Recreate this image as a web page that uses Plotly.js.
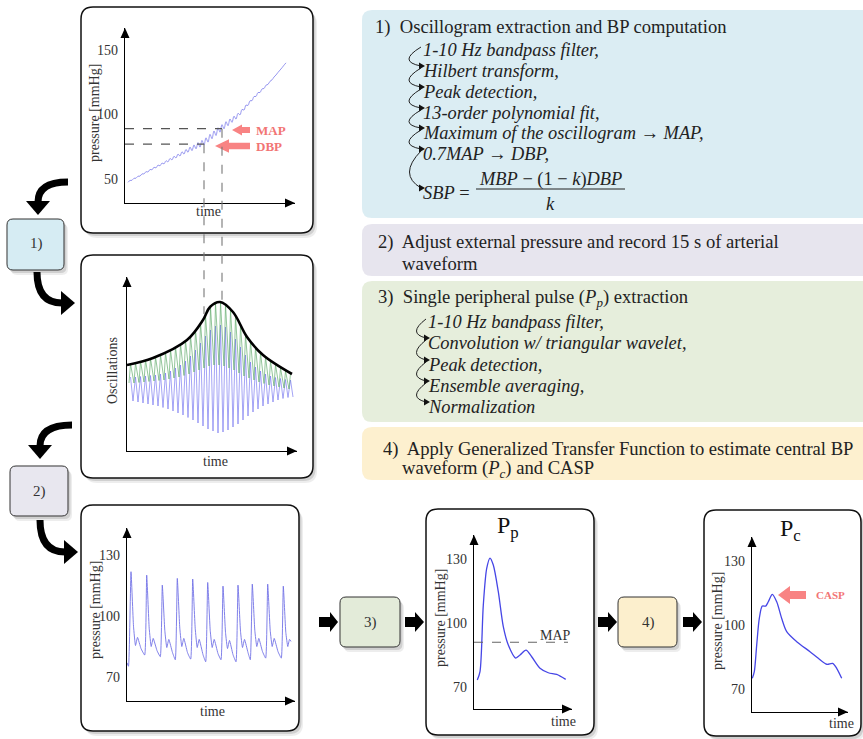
<!DOCTYPE html>
<html><head><meta charset="utf-8">
<script src="https://cdn.plot.ly/plotly-3.0.1.min.js"></script>
<style>html,body{margin:0;padding:0;background:#fff}#chart{width:863px;height:739px}</style>
</head><body><div id="chart"></div>
<script>
// ================= DATA =================
// Step 1 panel: cuff pressure ramp with superimposed oscillations (mmHg)
const rampTime = [3,7,11,15,19,23,27,31,35,39,43,47,51,55,59,63,67,71,75,79,83,87,91,95,99,103,107,111,115,119,123,127,131,135,139,143,147,151,155,159];
const rampLow  = [47.4,49.0,50.6,52.2,53.9,55.4,57.1,58.6,60.2,61.7,63.3,64.8,66.3,67.8,69.3,70.7,72.0,73.4,74.7,76.3,78.6,81.2,83.7,86.3,88.9,91.3,93.9,96.4,99.7,103.4,107.0,110.7,114.0,117.0,120.1,123.3,126.8,130.6,134.4,138.2];
const rampHigh = [48.9,50.6,52.2,54.0,55.7,57.4,59.1,60.8,62.4,64.1,65.9,67.6,69.3,71.1,72.9,74.7,76.4,78.2,79.9,81.9,84.6,87.2,89.7,92.1,94.4,96.5,98.7,100.9,103.9,107.3,110.6,113.9,117.0,119.8,122.7,125.7,129.0,132.6,136.2,140.0];
const rampTicks = [50, 100, 150];
const mapValue = 89, dbpValue = 77;     // mmHg
const mapTime = 97, dbpTime = 79;       // time where the ramp crosses MAP / DBP

// Oscillogram panel (arbitrary units)
const oscTime     = [2,7,12,17,22,27,32,37,42,47,52,57,62,67,72,77,82,87,92,97,102,107,112,117,122,127,132,137,142,147,152,157,162];
const greenTrough = [68,68,68.5,69,69.5,70,70.5,71,72,73,74,75.5,77,79,81,83,85,86,86,85,83,81,78,75,73,71,69,67.5,66,65,64,63,62];
const greenPeak   = [87,88,89.5,91,92.5,94,96,98.5,101,104,107,110.5,115,121,128,136,144,148,149,146.5,141.5,135,126,116.5,110,104,98.5,94,90,86.5,83,80,77.5];
const blueTop     = [74,74,74.5,75,75.5,76,77,78,80,83,86,90,95,101,108,115,121,125,126,124,119,112,104,96,89,84,80,77,75,73.5,72.5,71.5,71];
const blueBottom  = [50,49,48,47,46,45,43.5,42,40,38,36,33.5,31,28,25,22,20,18,19,21,24,27,31,35,39,42,45,47,49,51,52.5,53.5,54];
const envTime  = [0,26,60,76,83,93,106,120,136,165];
const envValue = [86,93,111,131,144,149,139,114,96,77];

// 15 s arterial waveform (mmHg)
const recTime = [0,1.5,4,6.5,8.5,10.5,14,17.7,19.7,22.2,24.2,26.2,30,33.3,35.3,37.8,39.8,41.8,45.5,48.3,50.3,52.8,54.8,56.8,60.5,63.7,65.7,68.2,70.2,72.2,76,78.7,80.7,83.2,85.2,87.2,91,94,96,98.5,100.5,102.5,106,109,111,113.5,115.5,117.5,121,123.3,125.3,127.8,129.8,131.8,135.5,138.7,140.7,143.2,145.2,147.2,151,154.3,156.3,158.8,160.8,162.5,164];
const recPressure = [77,75.3,121.8,95,85.5,89.5,84,80.8,120.1,94,85,89,83,80,115.2,93,84.5,88.5,82,78.5,118.5,94,85,89,82,78.8,118.2,94,84.5,88.5,81,77.5,116.5,93,84.5,88.5,81.5,78.5,114.7,92,84,88,81,77.5,115.2,92.5,84.5,88.5,82,78.5,115.7,93,85,89,82.5,79.3,115.7,93,85,89,82.5,79.3,114.7,92,85,88.5,87.5];
const pressureTicks = [70, 100, 130];

// Single peripheral pulse Pp (mmHg)
const ppTime = [3.3,6,9.3,12.7,16,19.3,24.3,29.3,34.3,41.7,46,52,57.7,66,74.3,82.7,91.7];
const ppPressure = [73.3,77.2,108.4,125.6,130.5,127.2,114.7,98.3,89.7,83.6,85,87.3,84.2,78.8,76.7,75.9,73.6];
const ppMAP = 91;

// Central pulse Pc (mmHg)
const pcTime = [0.3,2.3,4.7,7.3,10.3,13.7,16.3,20.3,24.7,29.7,34.7,44.7,58,66.3,74.7,80.7,84.7,89.7];
const pcPressure = [75,78.1,90.6,103.1,108.9,108.9,110.9,114.4,110.9,103.1,96.9,92.2,87.5,84.4,81.6,82,79.7,75];

// ================= HELPERS =================
const W = 863, H = 739;
const X = px => px / W;
const Y = py => 1 - py / H;
function pathPx(cmds){
  return cmds.map(c => {
    const op = c[0]; const nums = c.slice(1); const out = [];
    for (let i = 0; i < nums.length; i += 2) out.push(X(nums[i]).toFixed(5) + ',' + Y(nums[i+1]).toFixed(5));
    return op + ' ' + out.join(' ');
  }).join(' ');
}
function rrect(x0,y0,x1,y1,r){
  return pathPx([['M',x0+r,y0],['L',x1-r,y0],['Q',x1,y0,x1,y0+r],['L',x1,y1-r],['Q',x1,y1,x1-r,y1],['L',x0+r,y1],['Q',x0,y1,x0,y1-r],['L',x0,y0+r],['Q',x0,y0,x0+r,y0],['Z']]);
}
const shapes = [];
const annos = [];
function addShadowBox(b, r, fill, lineColor, lineW){
  shapes.push({type:'path', xref:'paper', yref:'paper', layer:'below', path: rrect(b[0]+4,b[1]+5,b[2]+4,b[3]+5,r), fillcolor:'rgba(0,0,0,0.07)', line:{width:0}});
  shapes.push({type:'path', xref:'paper', yref:'paper', layer:'below', path: rrect(b[0]+2.5,b[1]+3,b[2]+2.5,b[3]+3,r), fillcolor:'rgba(0,0,0,0.12)', line:{width:0}});
  shapes.push({type:'path', xref:'paper', yref:'paper', layer:'below', path: rrect(b[0],b[1],b[2],b[3],r), fillcolor:fill, line:{color:lineColor, width:lineW}});
}
function textBox(b, fill){
  shapes.push({type:'path', xref:'paper', yref:'paper', layer:'below', path: rrect(b[0],b[1],b[2],b[3],10), fillcolor:fill, line:{width:0}});
}
function tri(pts, color){
  shapes.push({type:'path', xref:'paper', yref:'paper', path: pathPx([['M',pts[0],pts[1]],['L',pts[2],pts[3]],['L',pts[4],pts[5]],['Z']]), fillcolor:color, line:{width:0}});
}
function blockArrow(xs, xb, xt, yc, hs, hh, color){
  shapes.push({type:'path', xref:'paper', yref:'paper', path: pathPx([['M',xs,yc-hs],['L',xb,yc-hs],['L',xb,yc-hh],['L',xt,yc],['L',xb,yc+hh],['L',xb,yc+hs],['L',xs,yc+hs],['Z']]), fillcolor:color, line:{width:0}});
}
function curveArrow(cmds, head){
  shapes.push({type:'path', xref:'paper', yref:'paper', path: pathPx(cmds), line:{color:'#000', width:7}, fillcolor:'rgba(0,0,0,0)'});
  tri(head, '#000');
}
function chainArrow(x, y0, y1, cx){
  const cy = (y0 + y1) / 2 + 1;
  shapes.push({type:'path', xref:'paper', yref:'paper', path: pathPx([['M',x-2,y0-3],['Q',cx,cy,x-2,y1-5]]), line:{color:'#222', width:1}, fillcolor:'rgba(0,0,0,0)'});
  tri([x+2,y1-5, x-4,y1-8.5, x-4,y1-1.5], '#111');
}
function txt(x, y, text, opt){
  annos.push(Object.assign({xref:'paper', yref:'paper', x:X(x), y:Y(y), text:text, showarrow:false, xanchor:'left', yanchor:'middle', font:{size:17, color:'#222'}}, opt || {}));
}
function axisHeads(xTip, yAxis, xAxis, yTip){
  tri([xTip,yAxis, xTip-10,yAxis-4.5, xTip-10,yAxis+4.5], '#000');
  tri([xAxis,yTip, xAxis-4.5,yTip+10, xAxis+4.5,yTip+10], '#000');
}

// ================= BACKGROUND BOXES =================
textBox([362,10,880,218], '#dbedf3');
textBox([362,224,880,276], '#e7e5ee');
textBox([362,281,880,422], '#e6eedc');
textBox([362,427,880,480], '#fdf0cf');

addShadowBox([81,7,313,233], 12, '#fff', '#111', 1.5);
addShadowBox([81,255,313,478], 12, '#fff', '#111', 1.5);
addShadowBox([81,505,299,731], 12, '#fff', '#111', 1.5);
addShadowBox([426,509,594,735], 12, '#fff', '#111', 1.5);
addShadowBox([704,510,861,736], 12, '#fff', '#111', 1.5);

addShadowBox([7,219,64,270], 6, '#d6ecf3', '#333', 1);
addShadowBox([10,466,68,516], 6, '#e8e7ef', '#333', 1);
addShadowBox([340,597,400,647], 6, '#e3ebd9', '#333', 1);
addShadowBox([618,597,677,647], 6, '#fcefcd', '#333', 1);

// ================= ARROWS =================
curveArrow([['M',68,182],['Q',38,182,38,202]], [26,201, 50,201, 38,215]);
curveArrow([['M',37,272],['Q',37,303,62,303]], [61,291, 61,315, 75,303]);
curveArrow([['M',72,425],['Q',40,425,40,446]], [28,445, 52,445, 40,459]);
curveArrow([['M',40,520],['Q',40,552,65,552]], [64,540, 64,564, 78,552]);

blockArrow(319,330,338,622,5,10,'#000');
blockArrow(405,415,424,622,5,10,'#000');
blockArrow(598,608,617,622,5,10,'#000');
blockArrow(683,693,702,622,5,10,'#000');

// red markers
const red = '#f88383';
blockArrow(250,242,232,130,3,5.5,red);
blockArrow(250,229,215,146,3.3,6.7,red);
blockArrow(806,790,778,595,4,9,red);

// chain arrows in the text boxes
const box1Y = [50,71,92,113,133,154,193];
for (let i = 0; i < box1Y.length - 1; i++) chainArrow(423, box1Y[i], box1Y[i+1], i === box1Y.length - 2 ? 398 : 397);
const box3Y = [322,343,365,386,407];
for (let i = 0; i < box3Y.length - 1; i++) chainArrow(428, box3Y[i], box3Y[i+1], 407);

// SBP fraction bar
shapes.push({type:'line', xref:'paper', yref:'paper', x0:X(476), x1:X(625), y0:Y(189), y1:Y(189), line:{color:'#222', width:1}});

// axis arrowheads
axisHeads(295,203,125,28);
axisHeads(297,451,127,277);
axisHeads(295,701,127,528);
axisHeads(572,709,474,535);
axisHeads(848,712,752,537);

// ================= DASHED REFERENCE LINES =================
const dashLine = {color:'#555', width:1.1, dash:'dash'};
shapes.push({type:'line', xref:'x', yref:'y', x0:0, x1:mapTime, y0:mapValue, y1:mapValue, line:dashLine});
shapes.push({type:'line', xref:'x', yref:'y', x0:0, x1:dbpTime, y0:dbpValue, y1:dbpValue, line:dashLine});
// vertical connectors from panel 1 to the oscillogram (paper coords mirroring axis x: t -> 125 + t px)
const aY0 = 31.4, aY1 = 167, aTop = 28, aBot = 203;
const aPy = v => aBot - (v - aY0) / (aY1 - aY0) * (aBot - aTop);
shapes.push({type:'line', xref:'paper', yref:'paper', x0:X(125+mapTime), x1:X(125+mapTime), y0:Y(aPy(mapValue)), y1:Y(301), line:{color:'#777', width:1.1, dash:'dash'}});
shapes.push({type:'line', xref:'paper', yref:'paper', x0:X(125+dbpTime), x1:X(125+dbpTime), y0:Y(aPy(dbpValue)), y1:Y(314), line:{color:'#777', width:1.1, dash:'dash'}});
shapes.push({type:'line', xref:'x4', yref:'y4', x0:0, x1:94, y0:ppMAP, y1:ppMAP, line:{color:'#666', width:1.1, dash:'dash'}});

// ================= TRACES =================
const rx = [], ry = [];
rampTime.forEach((t,i) => { rx.push(t, t + 2); ry.push(rampLow[i], rampHigh[i]); });
const gx = [], gy = [], bx = [], by = [];
oscTime.forEach((t,i) => {
  gx.push(t, t + 1.5); gy.push(greenTrough[i], greenPeak[i]);
  bx.push(t + 1.5, t + 4); by.push(blueTop[i], blueBottom[i]);
});
const traces = [
  {x:rx, y:ry, xaxis:'x', yaxis:'y', mode:'lines', line:{color:'rgb(125,125,235)', width:0.8, shape:'spline', smoothing:1}, hoverinfo:'skip'},
  {x:bx, y:by, xaxis:'x2', yaxis:'y2', mode:'lines', line:{color:'rgb(120,120,240)', width:0.8}, opacity:0.85, hoverinfo:'skip'},
  {x:gx, y:gy, xaxis:'x2', yaxis:'y2', mode:'lines', line:{color:'rgb(95,170,105)', width:0.8}, opacity:0.85, hoverinfo:'skip'},
  {x:envTime, y:envValue, xaxis:'x2', yaxis:'y2', mode:'lines', line:{color:'#000', width:2.6, shape:'spline', smoothing:1}, hoverinfo:'skip'},
  {x:recTime, y:recPressure, xaxis:'x3', yaxis:'y3', mode:'lines', line:{color:'rgb(115,115,230)', width:0.9, shape:'spline', smoothing:0.4}, hoverinfo:'skip'},
  {x:ppTime, y:ppPressure, xaxis:'x4', yaxis:'y4', mode:'lines', line:{color:'rgb(70,70,230)', width:1.3, shape:'spline', smoothing:0.8}, hoverinfo:'skip'},
  {x:pcTime, y:pcPressure, xaxis:'x5', yaxis:'y5', mode:'lines', line:{color:'rgb(70,70,230)', width:1.3, shape:'spline', smoothing:0.8}, hoverinfo:'skip'}
];

// ================= TEXT =================
const serif = 'Liberation Serif, Times New Roman, serif';
const small = {size:14, color:'#333', family:serif};
// axis labels
txt(94,113,'pressure [mmHg]', {xanchor:'center', textangle:-90, font:small});
txt(208,212,'time', {xanchor:'center', font:small});
txt(112,370,'Oscillations', {xanchor:'center', textangle:-90, font:small});
txt(215,461,'time', {xanchor:'center', font:small});
txt(95,610,'pressure [mmHg]', {xanchor:'center', textangle:-90, font:small});
txt(212,711,'time', {xanchor:'center', font:small});
txt(440,618,'pressure [mmHg]', {xanchor:'center', textangle:-90, font:small});
txt(563,721,'time', {xanchor:'center', font:small});
txt(717,621,'pressure [mmHg]', {xanchor:'center', textangle:-90, font:small});
txt(841,723,'time', {xanchor:'center', font:small});
// panel titles
txt(508,527,'P<sub>p</sub>', {xanchor:'center', font:{size:24, color:'#111', family:serif}});
txt(790,530,'P<sub>c</sub>', {xanchor:'center', font:{size:24, color:'#111', family:serif}});
// markers
const redText = {size:13, color:'#f27575', family:serif, weight:'bold'};
txt(254,130,'<b>MAP</b>', {font:redText});
txt(254,146,'<b>DBP</b>', {font:redText});
txt(814,595,'<b>CASP</b>', {font:{size:11, color:'#f27575', family:serif}});
txt(555,635,'MAP', {xanchor:'center', font:small});
// step boxes
txt(36,244,'1)', {xanchor:'center', font:{size:15, color:'#333', family:serif}});
txt(39,491,'2)', {xanchor:'center', font:{size:15, color:'#333', family:serif}});
txt(370,622,'3)', {xanchor:'center', font:{size:15, color:'#333', family:serif}});
txt(648,622,'4)', {xanchor:'center', font:{size:15, color:'#333', family:serif}});
// box 1
const body = {size:18.6, color:'#222', family:serif};
const ital = {size:18.4, color:'#222', family:serif};
txt(373,27,'1)\u00a0 Oscillogram extraction and BP computation', {font:body});
txt(421,50,'<i>1-10 Hz bandpass filter,</i>', {font:ital});
txt(421,71,'<i>Hilbert transform,</i>', {font:ital});
txt(421,92,'<i>Peak detection,</i>', {font:ital});
txt(421,113,'<i>13-order polynomial fit,</i>', {font:ital});
txt(421,133,'<i>Maximum of the oscillogram \u2192 MAP,</i>', {font:ital});
txt(421,154,'<i>0.7MAP \u2192 DBP,</i>', {font:ital});
txt(421,193,'<i>SBP</i> =', {font:ital});
txt(550,179,'<i>MBP</i> \u2212 (1 \u2212 <i>k</i>)<i>DBP</i>', {xanchor:'center', font:ital});
txt(550,204,'<i>k</i>', {xanchor:'center', font:ital});
// box 2
txt(376,242,'2)\u00a0 Adjust external pressure and record 15 s of arterial', {font:body});
txt(400,263,'waveform', {font:body});
// box 3
txt(376,298,'3)\u00a0 Single peripheral pulse (<i>P</i><sub><i>p</i></sub>) extraction', {font:body});
txt(426,322,'<i>1-10 Hz bandpass filter,</i>', {font:ital});
txt(426,343,'<i>Convolution w/ triangular wavelet,</i>', {font:ital});
txt(426,365,'<i>Peak detection,</i>', {font:ital});
txt(426,386,'<i>Ensemble averaging,</i>', {font:ital});
txt(426,407,'<i>Normalization</i>', {font:ital});
// box 4
txt(381,449,'4)\u00a0 Apply Generalized Transfer Function to estimate central BP', {font:body});
txt(400,469,'waveform (<i>P</i><sub><i>c</i></sub>) and CASP', {font:body});

// ================= LAYOUT =================
function xa(d0, d1, r, anchor){
  return {domain:[X(d0), X(d1)], range:r, anchor:anchor, showgrid:false, zeroline:false, showline:true, linecolor:'#000', linewidth:1.3, ticks:'', showticklabels:false, fixedrange:true};
}
function ya(d0, d1, r, anchor, ticks){
  const o = {domain:[Y(d0), Y(d1)], range:r, anchor:anchor, showgrid:false, zeroline:false, showline:true, linecolor:'#000', linewidth:1.3, ticks:'', fixedrange:true};
  if (ticks) { o.tickvals = ticks; o.showticklabels = true; o.tickfont = {size:14, color:'#333', family:serif}; o.ticklabelstandoff = 3; }
  else o.showticklabels = false;
  return o;
}
const layout = {
  width:W, height:H, margin:{l:0, r:0, t:0, b:0}, showlegend:false,
  paper_bgcolor:'#fff', plot_bgcolor:'rgba(0,0,0,0)',
  font:{family:serif, color:'#222'},
  xaxis: xa(125,295,[0,170],'y'),
  yaxis: ya(203,28,[31.4,167],'x',rampTicks),
  xaxis2: xa(127,297,[0,170],'y2'),
  yaxis2: ya(451,277,[0,174],'x2',null),
  xaxis3: xa(127,295,[0,168],'y3'),
  yaxis3: ya(701,528,[58.2,143.3],'x3',pressureTicks),
  xaxis4: xa(474,572,[0,98],'y4'),
  yaxis4: ya(709,535,[59.7,141.3],'x4',pressureTicks),
  xaxis5: xa(752,848,[0,96],'y5'),
  yaxis5: ya(712,537,[59.2,141.3],'x5',pressureTicks),
  shapes:shapes, annotations:annos
};
Plotly.newPlot('chart', traces, layout, {staticPlot:true, displayModeBar:false});
</script></body></html>
